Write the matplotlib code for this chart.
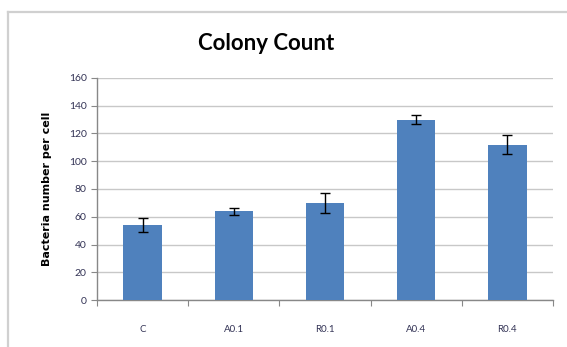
import matplotlib.pyplot as plt
import numpy as np
from matplotlib.lines import Line2D

plt.rcParams['font.family'] = ['Lato', 'DejaVu Sans']

# colony counts per sample
muestras = ["C", "A0.1", "R0.1", "A0.4", "R0.4"]
conteo = [54, 64, 70, 130, 112]
error = [5, 2.5, 7, 3.5, 7]

fig = plt.figure(figsize=(5.67, 3.47), dpi=100)
W, H = 567, 347

# marco gris del grafico
fig.add_artist(Line2D([8 / W, 8 / W], [0, 1 - 12 / H], color="#d0d0d0", lw=1.6,
                      transform=fig.transFigure))
fig.add_artist(Line2D([8 / W, 1], [1 - 12 / H, 1 - 12 / H], color="#d0d0d0", lw=1.6,
                      transform=fig.transFigure))

ax = fig.add_axes([97 / W, 1 - 300 / H, (553 - 97) / W, (300 - 78) / H])
x = np.arange(len(muestras))
ax.bar(x, conteo, width=0.42, color="#4f81bd", zorder=3)
ax.errorbar(x, conteo, yerr=error, fmt="none", ecolor="black", elinewidth=1,
            capsize=3.5, capthick=1, zorder=4)

ax.set_xlim(-0.5, len(muestras) - 0.5)
ax.set_ylim(0, 160)
ax.set_yticks(range(0, 161, 20))
ax.yaxis.grid(True, color="#c8c8c8", lw=1)
ax.set_axisbelow(True)

# ticks del eje x entre categorias
ax.set_xticks(np.arange(-0.5, len(muestras), 1))
ax.set_xticklabels([])
ax.set_xticks(x, minor=True)
ax.set_xticklabels(muestras, minor=True, fontsize=7, color="#333355")
ax.tick_params(axis="x", which="minor", length=0, pad=18)
ax.tick_params(axis="x", which="major", length=4, color="#888888", direction="out")
ax.tick_params(axis="y", length=4, color="#888888", labelsize=7.5, labelcolor="#333355")

for s in ["top", "right"]:
    ax.spines[s].set_visible(False)
for s in ["left", "bottom"]:
    ax.spines[s].set_color("#888888")
    ax.spines[s].set_linewidth(1)

ax.set_ylabel("Bacteria number per cell", fontsize=8, fontweight="bold",
              family="DejaVu Sans", labelpad=12)
fig.text(0.47, 1 - 43 / H, "Colony Count", ha="center", va="center",
         fontsize=16, fontweight="bold")

fig.savefig("out.png", dpi=100)
